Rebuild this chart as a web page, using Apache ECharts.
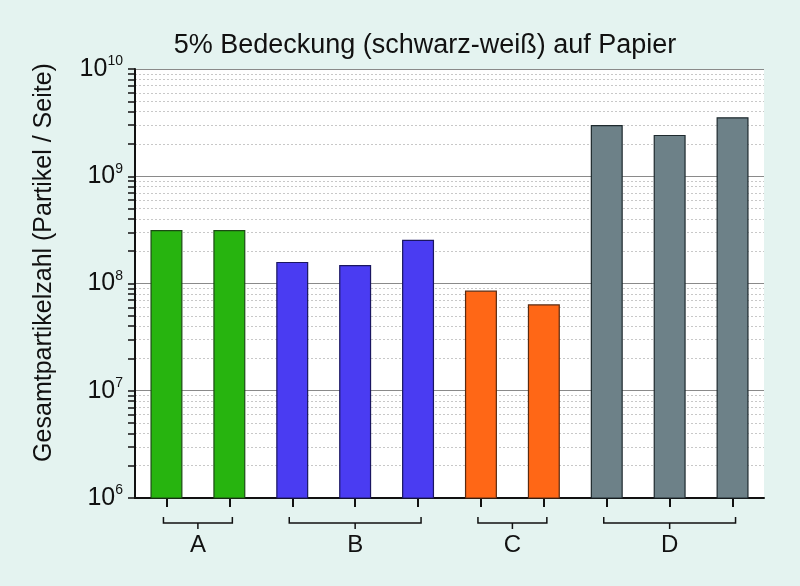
<!DOCTYPE html>
<html>
<head>
<meta charset="utf-8">
<script src="https://cdn.jsdelivr.net/npm/echarts@6/dist/echarts.min.js"></script>
<style>
html,body{margin:0;padding:0;background:#e4f3f0;}
#main{width:800px;height:586px;}
</style>
</head>
<body>
<div id="main"></div>
<script>
const titleText = '5% Bedeckung (schwarz-weiß) auf Papier';
const yAxisTitle = 'Gesamtpartikelzahl (Partikel / Seite)';
const categories = ['A1', 'A2', 'B1', 'B2', 'B3', 'C1', 'C2', 'D1', 'D2', 'D3'];
const values = [3.15e8, 3.15e8, 1.59e8, 1.49e8, 2.56e8, 8.6e7, 6.4e7, 3.0e9, 2.43e9, 3.55e9];
const barColors = ['#27b40f', '#27b40f', '#4a3cf2', '#4a3cf2', '#4a3cf2', '#ff6716', '#ff6716', '#6d8188', '#6d8188', '#6d8188'];
const borderColors = ['#1c4a14', '#1c4a14', '#1a1660', '#1a1660', '#1a1660', '#5a2a10', '#5a2a10', '#1e2a2e', '#1e2a2e', '#1e2a2e'];
const groupNames = ['A', 'B', 'C', 'D'];
const groupStart = [0, 2, 5, 7];
const groupEnd = [1, 4, 6, 9];
const minorTicks = [];
[1e6, 1e7, 1e8, 1e9].forEach(d => { for (let k = 2; k <= 9; k++) minorTicks.push(k * d); });

const FONT = 'Liberation Sans, Arial, sans-serif';
const chart = echarts.init(document.getElementById('main'), null, {renderer: 'canvas'});

const bracketData = groupNames.map((n, i) => [groupStart[i], groupEnd[i], i]);

chart.setOption({
  backgroundColor: '#e4f3f0',
  animation: false,
  title: {
    text: titleText,
    left: 420, top: 27, textAlign: 'center',
    textStyle: {fontFamily: FONT, fontSize: 27, fontWeight: 'normal', color: '#111'}
  },
  grid: {left: 135, right: 36, top: 69, bottom: 88, show: true, backgroundColor: '#ffffff', borderWidth: 0},
  xAxis: {
    type: 'category',
    data: categories,
    axisLine: {show: true, lineStyle: {color: '#111', width: 2}},
    axisTick: {show: true, alignWithLabel: true, length: 9, lineStyle: {color: '#111', width: 2}},
    axisLabel: {show: false},
    splitLine: {show: false}
  },
  yAxis: [
    {
      type: 'log', logBase: 10, min: 1e6, max: 1e10,
      name: yAxisTitle, nameLocation: 'middle', nameGap: 78, nameRotate: 90,
      nameTextStyle: {fontFamily: FONT, fontSize: 25, color: '#111', padding: [0, 0, 0, 42]},
      axisLine: {show: true, lineStyle: {color: '#111', width: 2}},
      axisTick: {show: true, length: 7, lineStyle: {color: '#111', width: 1.5}},
      splitLine: {show: true, lineStyle: {color: '#8a8a8a', width: 1.2}},
      axisLabel: {
        margin: 12,
        formatter: v => '{b|10}{e|' + Math.round(Math.log10(v)) + '}',
        rich: {
          b: {fontFamily: FONT, fontSize: 25, color: '#111'},
          e: {fontFamily: FONT, fontSize: 14, color: '#111', verticalAlign: 'bottom', padding: [0, 0, 15, 0]}
        }
      }
    },
    {
      type: 'log', logBase: 10, min: 1e6, max: 1e10, position: 'left', offset: 0,
      axisLine: {show: false},
      axisLabel: {show: false},
      axisTick: {show: true, length: 7, customValues: minorTicks, lineStyle: {color: '#111', width: 1.5}},
      splitLine: {show: true, lineStyle: {color: '#c8c8c8', width: 1, type: [2, 2]}}
    }
  ],
  series: [
    {
      type: 'bar',
      yAxisIndex: 0,
      barWidth: 32,
      z: 5,
      data: values.map((v, i) => ({value: v, itemStyle: {color: barColors[i], borderColor: borderColors[i], borderWidth: 1.2}}))
    },
    {
      type: 'custom',
      yAxisIndex: 0,
      clip: false,
      silent: true,
      data: bracketData,
      renderItem: function (params, api) {
        const s = api.coord([api.value(0), 1e6]);
        const e = api.coord([api.value(1), 1e6]);
        const x0 = s[0] - 3, x1 = e[0] + 3;
        const y = s[1] + 25;
        const xm = (x0 + x1) / 2;
        const st = {stroke: '#111', lineWidth: 1.5, fill: null};
        return {
          type: 'group',
          children: [
            {type: 'polyline', shape: {points: [[x0, y - 6], [x0, y], [x1, y], [x1, y - 6]]}, style: st},
            {type: 'line', shape: {x1: xm, y1: y, x2: xm, y2: y + 6}, style: st},
            {type: 'text', x: xm, y: y + 22, style: {text: groupNames[api.value(2)], fontFamily: FONT, fontSize: 24, fill: '#111', align: 'center', verticalAlign: 'middle'}}
          ]
        };
      }
    }
  ]
});
</script>
</body>
</html>
